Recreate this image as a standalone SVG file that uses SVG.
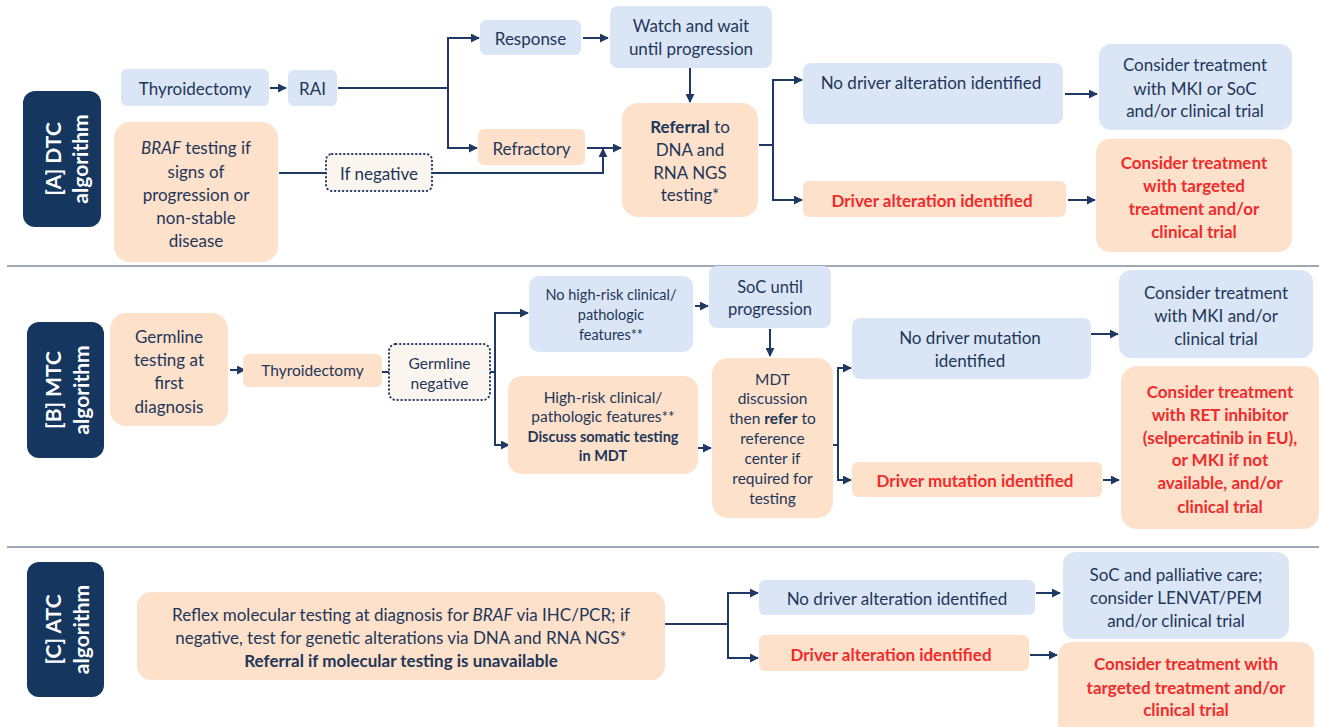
<svg xmlns="http://www.w3.org/2000/svg" width="1319" height="727" viewBox="0 0 1319 727">
<defs>
<marker id="ah" viewBox="0 0 10 10" refX="9" refY="5" markerWidth="9" markerHeight="9" markerUnits="userSpaceOnUse" orient="auto">
<path d="M0,0 L10,5 L0,10 z" fill="#1f3864"/>
</marker>
<style>
.b{fill:#dae6f6}
.p{fill:#fde1cb}
.lb{fill:#14365f}
.dt{fill:#fbf5f0;stroke:#1f3864;stroke-width:2;stroke-dasharray:0.5 3.5;stroke-linecap:round}
text{font-family:Lato,"Liberation Sans",sans-serif;fill:#1f3658;text-anchor:middle;dominant-baseline:central}
.s17{font-size:17px}
.s16{font-size:16.5px}
.s15{font-size:15.5px}
.s14{font-size:14.5px}
.r{fill:#f02b2b;font-weight:bold}
.w{fill:#ffffff;font-weight:bold;font-size:21px}
.bd{font-weight:bold}
.it{font-style:italic}
.sep{stroke:#9ea8b7;stroke-width:2}
.c{fill:none;stroke:#1f3864;stroke-width:2}
.ca{fill:none;stroke:#1f3864;stroke-width:2;marker-end:url(#ah)}
</style>
</defs>
<rect width="1319" height="727" fill="#ffffff"/>
<line class="sep" x1="7" y1="266" x2="1319" y2="266"/>
<line class="sep" x1="7" y1="547" x2="1319" y2="547"/>

<g id="connectors">
<!-- A -->
<line class="ca" x1="270" y1="88" x2="286" y2="88"/>
<path class="c" d="M338,88 H448 M448,38 V148"/>
<line class="ca" x1="447" y1="38" x2="479" y2="38"/>
<line class="ca" x1="447" y1="148" x2="477" y2="148"/>
<line class="ca" x1="583" y1="38" x2="608" y2="38"/>
<line class="ca" x1="690" y1="68" x2="690" y2="102"/>
<line class="ca" x1="587" y1="148" x2="621" y2="148"/>
<line class="c" x1="279" y1="173" x2="326" y2="173"/>
<path class="ca" d="M432,173 H603 V149"/>
<path class="c" d="M759,145 H773 M773,80 V200"/>
<line class="ca" x1="772" y1="80" x2="802" y2="80"/>
<line class="ca" x1="772" y1="200" x2="802" y2="200"/>
<line class="ca" x1="1065" y1="94" x2="1097" y2="94"/>
<line class="ca" x1="1068" y1="200" x2="1095" y2="200"/>
<!-- B -->
<line class="ca" x1="230" y1="370" x2="245" y2="370"/>
<line class="c" x1="382" y1="372" x2="389" y2="372"/>
<path class="c" d="M490,372 H495 M495,313 V445"/>
<line class="ca" x1="494" y1="313" x2="528" y2="313"/>
<line class="ca" x1="494" y1="445" x2="509" y2="445"/>
<line class="ca" x1="695" y1="306" x2="708" y2="306"/>
<line class="ca" x1="770" y1="329" x2="770" y2="356"/>
<line class="ca" x1="698" y1="448" x2="711" y2="448"/>
<path class="c" d="M833,445 H838 M838,368 V480"/>
<line class="ca" x1="837" y1="368" x2="851" y2="368"/>
<line class="ca" x1="837" y1="480" x2="851" y2="480"/>
<line class="ca" x1="1088" y1="334" x2="1118" y2="334"/>
<line class="ca" x1="1103" y1="480" x2="1119" y2="480"/>
<!-- C -->
<path class="c" d="M665,624 H728 M728,593 V658"/>
<line class="ca" x1="727" y1="593" x2="758" y2="593"/>
<line class="ca" x1="727" y1="658" x2="758" y2="658"/>
<line class="ca" x1="1036" y1="593" x2="1060" y2="593"/>
<line class="ca" x1="1030" y1="655" x2="1057" y2="655"/>
</g>

<!-- Section A -->
<g id="labelA"><rect class="lb" x="23" y="91" width="78" height="136" rx="12"/>
<text class="w" transform="translate(52,159) rotate(-90)">[A] DTC</text>
<text class="w" transform="translate(79,159) rotate(-90)">algorithm</text></g>
<g id="thyroA"><rect class="b" x="121" y="69" width="148" height="37" rx="6"/><text class="s17" x="195" y="88">Thyroidectomy</text></g>
<g id="rai"><rect class="b" x="288" y="70" width="49" height="36" rx="6"/><text class="s17" x="312.5" y="88">RAI</text></g>
<g id="braf"><rect class="p" x="114" y="122" width="164" height="140" rx="16"/>
<text class="s17" x="196" y="147"><tspan class="it">BRAF</tspan> testing if</text>
<text class="s17" x="196" y="171">signs of</text>
<text class="s17" x="196" y="194">progression or</text>
<text class="s17" x="196" y="217">non-stable</text>
<text class="s17" x="196" y="240">disease</text></g>
<g id="ifneg"><rect class="dt" x="326" y="154" width="106" height="37" rx="6"/><text class="s17" x="379" y="173">If negative</text></g>
<g id="response"><rect class="b" x="480" y="20" width="101" height="35" rx="6"/><text class="s17" x="530.5" y="38">Response</text></g>
<g id="watch"><rect class="b" x="610" y="6" width="162" height="62" rx="8"/>
<text class="s17" x="691" y="25">Watch and wait</text><text class="s17" x="691" y="48">until progression</text></g>
<g id="refractory"><rect class="p" x="478" y="129" width="107" height="36" rx="6"/><text class="s17" x="531.5" y="148">Refractory</text></g>
<g id="referral"><rect class="p" x="622" y="103" width="136" height="114" rx="16"/>
<text class="s17" x="690" y="126"><tspan class="bd">Referral</tspan> to</text>
<text class="s17" x="690" y="149">DNA and</text>
<text class="s17" x="690" y="172">RNA NGS</text>
<text class="s17" x="690" y="194">testing*</text></g>
<g id="nodriverA"><rect class="b" x="803" y="63" width="260" height="61" rx="8"/><text class="s17" x="931" y="82">No driver alteration identified</text></g>
<g id="driverA"><rect class="p" x="803" y="181" width="263" height="36" rx="6"/><text class="s17 r" x="932" y="200">Driver alteration identified</text></g>
<g id="mkiA"><rect class="b" x="1099" y="44" width="193" height="86" rx="12"/>
<text class="s17" x="1195" y="64">Consider treatment</text>
<text class="s17" x="1195" y="88">with MKI or SoC</text>
<text class="s17" x="1195" y="110">and/or clinical trial</text></g>
<g id="targetA"><rect class="p" x="1096" y="139" width="196" height="113" rx="14"/>
<text class="s17 r" x="1194" y="162">Consider treatment</text>
<text class="s17 r" x="1194" y="185">with targeted</text>
<text class="s17 r" x="1194" y="208">treatment and/or</text>
<text class="s17 r" x="1194" y="231">clinical trial</text></g>

<!-- Section B -->
<g id="labelB"><rect class="lb" x="27" y="322" width="77" height="136" rx="12"/>
<text class="w" transform="translate(52,390) rotate(-90)">[B] MTC</text>
<text class="w" transform="translate(80,390) rotate(-90)">algorithm</text></g>
<g id="germline"><rect class="p" x="110" y="313" width="118" height="113" rx="16"/>
<text class="s17" x="169" y="336">Germline</text>
<text class="s17" x="169" y="359">testing at</text>
<text class="s17" x="169" y="382">first</text>
<text class="s17" x="169" y="406">diagnosis</text></g>
<g id="thyroB"><rect class="p" x="243" y="354" width="139" height="33" rx="6"/><text class="s15" x="312.5" y="370">Thyroidectomy</text></g>
<g id="germneg"><rect class="dt" x="389" y="344" width="101" height="56" rx="7"/>
<text class="s15" x="439.5" y="363">Germline</text><text class="s15" x="439.5" y="383">negative</text></g>
<g id="nohighrisk"><rect class="b" x="529" y="276" width="164" height="76" rx="10"/>
<text class="s14" x="611" y="294">No high-risk clinical/</text>
<text class="s14" x="611" y="314">pathologic</text>
<text class="s14" x="611" y="334">features**</text></g>
<g id="highrisk"><rect class="p" x="508" y="376" width="190" height="98" rx="14"/>
<text class="s15" x="603" y="397">High-risk clinical/</text>
<text class="s15" x="603" y="416">pathologic features**</text>
<text class="s14 bd" x="603" y="436">Discuss somatic testing</text>
<text class="s14 bd" x="603" y="455">in MDT</text></g>
<g id="soc"><rect class="b" x="709" y="266" width="122" height="62" rx="8"/>
<text class="s16" x="770" y="287">SoC until</text><text class="s16" x="770" y="309">progression</text></g>
<g id="mdt"><rect class="p" x="712" y="358" width="121" height="160" rx="16"/>
<text class="s15" x="772.5" y="379">MDT</text>
<text class="s15" x="772.5" y="398">discussion</text>
<text class="s15" x="772.5" y="418">then <tspan class="bd">refer</tspan> to</text>
<text class="s15" x="772.5" y="438">reference</text>
<text class="s15" x="772.5" y="458">center if</text>
<text class="s15" x="772.5" y="478">required for</text>
<text class="s15" x="772.5" y="498">testing</text></g>
<g id="nodriverB"><rect class="b" x="852" y="318" width="239" height="61" rx="8"/>
<text class="s17" x="970" y="337">No driver mutation</text><text class="s17" x="970" y="360">identified</text></g>
<g id="driverB"><rect class="p" x="852" y="462" width="250" height="35" rx="6"/><text class="s17 r" x="975" y="480">Driver mutation identified</text></g>
<g id="mkiB"><rect class="b" x="1119" y="270" width="194" height="88" rx="12"/>
<text class="s17" x="1216" y="292">Consider treatment</text>
<text class="s17" x="1216" y="315">with MKI and/or</text>
<text class="s17" x="1216" y="338">clinical trial</text></g>
<g id="retB"><rect class="p" x="1121" y="366" width="198" height="163" rx="16"/>
<text class="s17 r" x="1220" y="391">Consider treatment</text>
<text class="s17 r" x="1220" y="414">with RET inhibitor</text>
<text class="s17 r" x="1220" y="437">(selpercatinib  in EU),</text>
<text class="s17 r" x="1220" y="459">or MKI if not</text>
<text class="s17 r" x="1220" y="482">available, and/or</text>
<text class="s17 r" x="1220" y="506">clinical trial</text></g>

<!-- Section C -->
<g id="labelC"><rect class="lb" x="27" y="562" width="77" height="135" rx="12"/>
<text class="w" transform="translate(52,629.5) rotate(-90)">[C] ATC</text>
<text class="w" transform="translate(80,629.5) rotate(-90)">algorithm</text></g>
<g id="reflex"><rect class="p" x="137" y="592" width="528" height="88" rx="14"/>
<text class="s17" x="401" y="614">Reflex molecular testing at diagnosis  for <tspan class="it">BRAF</tspan> via IHC/PCR; if</text>
<text class="s17" x="401" y="637">negative, test for  genetic alterations via DNA and RNA NGS*</text>
<text class="s17 bd" x="401" y="660">Referral if molecular testing is unavailable</text></g>
<g id="nodriverC"><rect class="b" x="759" y="580" width="276" height="35" rx="6"/><text class="s17" x="897" y="598">No driver alteration identified</text></g>
<g id="driverC"><rect class="p" x="759" y="635" width="270" height="36" rx="6"/><text class="s17 r" x="891" y="654">Driver alteration identified</text></g>
<g id="socC"><rect class="b" x="1063" y="552" width="226" height="87" rx="12"/>
<text class="s17" x="1176" y="574">SoC and palliative care;</text>
<text class="s17" x="1176" y="597">consider LENVAT/PEM</text>
<text class="s17" x="1176" y="620">and/or clinical trial</text></g>
<g id="targetC"><rect class="p" x="1058" y="642" width="256" height="95" rx="14"/>
<text class="s17 r" x="1186" y="663">Consider treatment with</text>
<text class="s17 r" x="1186" y="687">targeted treatment and/or</text>
<text class="s17 r" x="1186" y="709">clinical trial</text></g>
</svg>
